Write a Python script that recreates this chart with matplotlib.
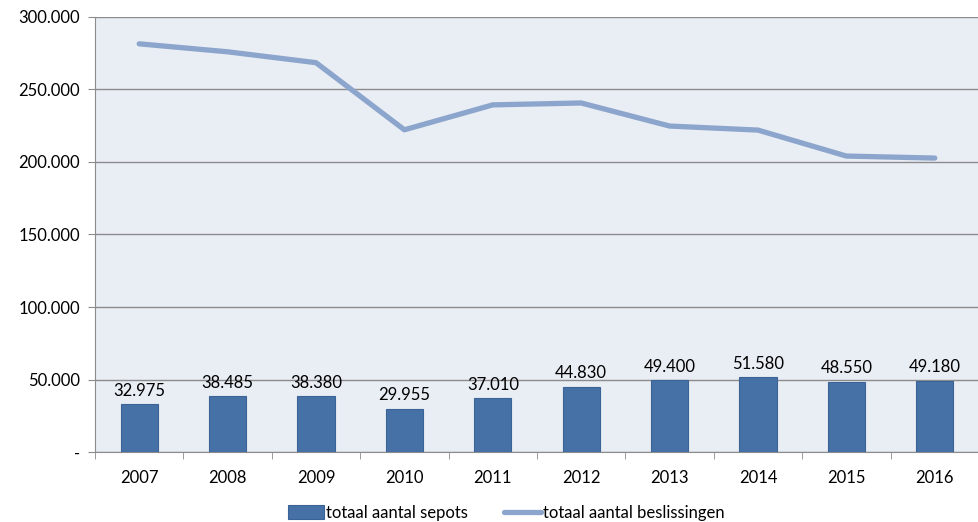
import matplotlib.pyplot as plt
from matplotlib.ticker import FuncFormatter, FixedLocator
import numpy as np

plt.rcParams['font.family'] = ['Lato', 'DejaVu Sans']

years = ['2007', '2008', '2009', '2010', '2011', '2012', '2013', '2014', '2015', '2016']
sepots = [32975, 38485, 38380, 29955, 37010, 44830, 49400, 51580, 48550, 49180]
beslissingen = [281500, 276000, 268500, 222200, 239400, 240700, 224800, 222000, 204100, 202700]


def dutch(v):
    return f"{int(v):,}".replace(",", ".")


fig = plt.figure(figsize=(9.79, 5.22), dpi=100)
ax = fig.add_axes([95 / 979, 70 / 522, 884 / 979, 435 / 522])
ax.set_facecolor('#E9EDF4')

x = np.arange(len(years))
bars = ax.bar(x, sepots, width=0.42, color='#4571A7', edgecolor='#3A6396', linewidth=0.8,
              label='totaal aantal sepots', zorder=3)
line, = ax.plot(x, beslissingen, color='#8CA5CC', linewidth=3.8, solid_capstyle='round',
                label='totaal aantal beslissingen', zorder=4)

for xi, v in zip(x, sepots):
    ax.annotate(dutch(v), (xi, v), xytext=(0, 4), textcoords='offset points',
                ha='center', va='bottom', fontsize=12, zorder=5)

ax.set_xlim(-0.5, len(years) - 0.5)
ax.set_ylim(0, 300000)
ax.set_yticks(np.arange(0, 300001, 50000))
ax.yaxis.set_major_formatter(FuncFormatter(lambda v, p: '-' if v == 0 else dutch(v)))
ax.yaxis.grid(True, color='#8C8C8C', linewidth=1.0, zorder=1)
ax.set_axisbelow(True)

ax.set_xticks(x)
ax.set_xticklabels(years)
ax.xaxis.set_minor_locator(FixedLocator(np.arange(-0.5, len(years), 1.0)))
ax.tick_params(axis='x', which='major', length=0, pad=13, labelsize=12)
ax.tick_params(axis='x', which='minor', length=5, color='#8C8C8C')
ax.tick_params(axis='y', length=5, color='#8C8C8C', labelsize=12, pad=6)

for s in ['top', 'right']:
    ax.spines[s].set_visible(False)
for s in ['left', 'bottom']:
    ax.spines[s].set_color('#8C8C8C')

fig.legend([bars, line], ['totaal aantal sepots', 'totaal aantal beslissingen'],
           loc='center', bbox_to_anchor=(506 / 979, 1 - 513 / 522), ncol=2, frameon=False,
           fontsize=12, handlelength=2.2, handleheight=0.9, handletextpad=0.1,
           columnspacing=2.2)

fig.savefig('out.png', dpi=100, facecolor='white')
